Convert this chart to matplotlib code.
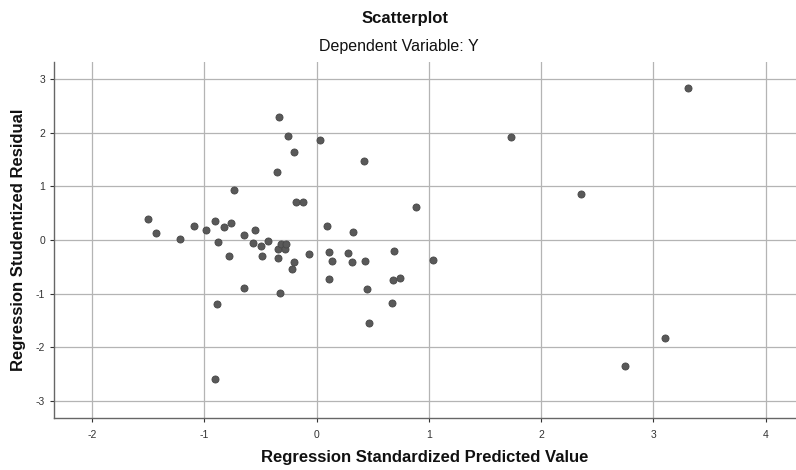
import numpy as np
import matplotlib
matplotlib.use("Agg")
import matplotlib.pyplot as plt

plt.rcParams['font.family'] = ['Liberation Sans', 'DejaVu Sans']
plt.rcParams['axes.unicode_minus'] = False

# standardized predicted value vs studentized residual
pred = [3.31, 1.735, 2.355, 3.10, 2.745,
        -0.334, -0.253, 0.03, -0.20, 0.42, -0.35, -0.74, -0.18, -0.124, 0.885, 0.09, 0.325,
        -1.50, -1.43, -1.22, -1.09, -0.99, -0.907, -0.83, -0.765, -0.88,
        -0.78, -0.645, -0.552, -0.563, -0.496, -0.43,
        -0.348, -0.315, -0.285, -0.27,
        -0.488, -0.343, -0.20, -0.224, -0.068, 0.11, 0.133, 0.275, 0.313, 0.43,
        0.685, 1.033, 0.678, 0.745, 0.11, -0.645, -0.325, 0.45, -0.89, 0.67, 0.47, -0.905]
resid = [2.83, 1.92, 0.86, -1.83, -2.35,
         2.29, 1.94, 1.86, 1.64, 1.47, 1.27, 0.94, 0.70, 0.70, 0.61, 0.27, 0.15,
         0.395, 0.13, 0.02, 0.27, 0.18, 0.35, 0.25, 0.325, -0.04,
         -0.30, 0.085, 0.18, -0.065, -0.115, -0.01,
         -0.167, -0.08, -0.16, -0.08,
         -0.29, -0.33, -0.415, -0.55, -0.26, -0.22, -0.385, -0.245, -0.41, -0.385,
         -0.20, -0.37, -0.74, -0.705, -0.73, -0.89, -0.98, -0.91, -1.20, -1.17, -1.54, -2.60]

xticks = [-2, -1, 0, 1, 2, 3, 4]
yticks = [-3, -2, -1, 0, 1, 2, 3]

fig = plt.figure(figsize=(7.96, 4.70), dpi=100)
ax = fig.add_axes([54 / 796, 52 / 470, 742 / 796, 356 / 470])

ax.scatter(pred, resid, s=26, color='#595959', edgecolors='#474747',
           linewidths=0.6, zorder=3)

ax.set_xlim(-2.34, 4.27)
ax.set_ylim(-3.32, 3.32)
ax.set_xticks(xticks)
ax.set_yticks(yticks)
ax.grid(True, color='#b4b4b4', linewidth=0.9)
ax.set_axisbelow(True)

for side in ['top', 'right']:
    ax.spines[side].set_visible(False)
for side in ['left', 'bottom']:
    ax.spines[side].set_color('#666666')
    ax.spines[side].set_linewidth(1.0)

ax.tick_params(axis='both', labelsize=7.5, colors='#333333', length=3,
               width=0.8, direction='out')
ax.tick_params(axis='x', pad=6)

ax.set_xlabel('Regression Standardized Predicted Value', fontsize=12,
              fontweight='bold', color='#111111', va='center')
ax.set_ylabel('Regression Studentized Residual', fontsize=12,
              fontweight='bold', color='#111111', va='center')
ax.xaxis.set_label_coords(0.5, -0.112)
ax.yaxis.set_label_coords(-0.0485, 0.5)

fig.text(405 / 796, 1 - 18 / 470, 'Scatterplot', ha='center', va='center',
         fontsize=12, fontweight='bold', color='#111111')
fig.text(399 / 796, 1 - 47 / 470, 'Dependent Variable: Y', ha='center',
         va='center', fontsize=11.5, color='#111111')

fig.savefig('out.png', dpi=100, facecolor='white')
